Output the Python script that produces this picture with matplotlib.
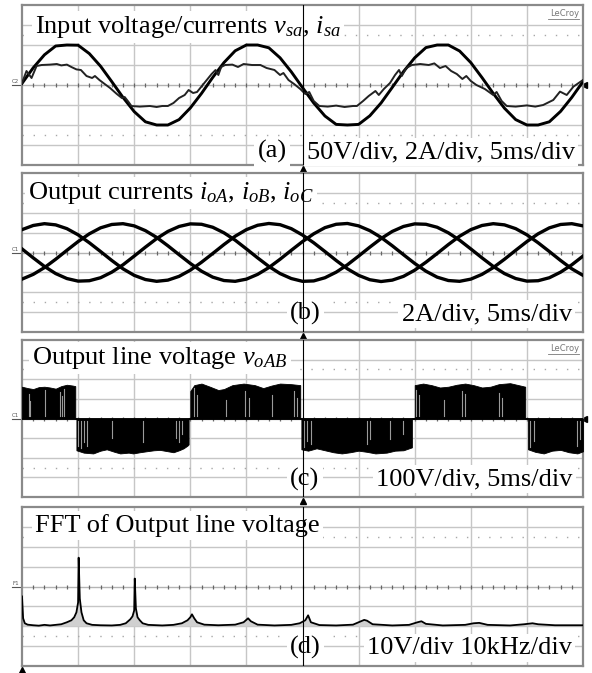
import numpy as np
import matplotlib
matplotlib.use('Agg')
import matplotlib.pyplot as plt

plt.rcParams['font.family'] = ['Liberation Serif', 'DejaVu Serif']
plt.rcParams['mathtext.fontset'] = 'custom'
plt.rcParams['mathtext.rm'] = 'Liberation Serif'
plt.rcParams['mathtext.it'] = 'Liberation Serif:italic'

# ---------------- data (in scope divisions) ----------------
# (a) input phase voltage v_sa, sampled every 0.2 div (5 ms/div, 50 V/div)
t_a = np.linspace(0, 10, 51)
v_sa = [0.08, 0.86, 1.51, 1.95, 2.0, 1.99, 1.57, 0.94, 0.17, -0.62,
        -1.33, -1.84, -2.0, -2.0, -1.73, -1.15, -0.42, 0.38, 1.12, 1.71,
        2.0, 2.0, 1.86, 1.36, 0.66, -0.13, -0.90, -1.55, -1.97, -2.0,
        -1.97, -1.54, -0.90, -0.12, 0.67, 1.36, 1.87, 2.0, 2.0, 1.70,
        1.12, 0.37, -0.42, -1.16, -1.73, -2.0, -2.0, -1.84, -1.32, -0.62, 0.17]
# (a) input current i_sa (2 A/div), read at irregular times
t_isa = [0.0, 0.08, 0.17, 0.26, 0.35, 0.5, 0.62, 0.7, 0.8, 0.88, 0.97, 1.05, 1.15, 1.25, 1.3,
         1.38, 1.45, 1.57, 1.69, 1.78, 1.83, 1.9, 1.95, 2.1, 2.28, 2.4, 2.5, 2.6, 2.7, 2.8,
         2.9, 2.97, 3.05, 3.12, 3.25, 3.38, 3.45, 3.5, 3.55, 3.62, 3.75, 3.85, 3.95, 4.1, 4.25,
         4.36, 4.5, 4.6, 4.66, 4.75, 4.85, 4.96, 5.05, 5.12, 5.2, 5.3, 5.45, 5.6, 5.75, 5.9,
         5.97, 6.08, 6.18, 6.3, 6.36, 6.45, 6.56, 6.65, 6.72, 6.77, 6.85, 6.95, 7.1, 7.25, 7.35,
         7.45, 7.55, 7.65, 7.75, 7.85, 7.92, 8.0, 8.1, 8.25, 8.4, 8.46, 8.55, 8.64, 8.8, 9.0,
         9.15, 9.29, 9.47, 9.59, 9.71, 9.83, 10.0]
i_sa = [0.1, 0.7, 0.35, 0.95, 1.0, 1.02, 1.05, 0.98, 1.02, 0.9, 0.78, 0.75, 0.45, 0.35, 0.45,
        0.25, 0.1, -0.15, -0.45, -0.65, -0.6, -0.85, -1.05, -1.08, -1.05, -1.1, -1.05, -1.05, -0.9, -0.65,
        -0.5, -0.25, -0.4, -0.35, 0.1, 0.55, 0.75, 0.5, 0.9, 1.0, 1.02, 0.9, 1.05, 1.0, 1.0,
        0.85, 0.75, 0.5, 0.6, 0.25, 0.05, -0.2, -0.45, -0.35, -0.8, -1.05, -1.08, -1.03, -1.1, -1.05,
        -1.05, -0.8, -0.55, -0.3, -0.5, -0.2, 0.1, 0.5, 0.75, 0.45, 0.85, 1.0, 1.05, 1.0, 1.08,
        0.85, 0.95, 0.7, 0.55, 0.3, 0.45, 0.2, 0.0, -0.2, -0.5, -0.35, -0.8, -1.05, -1.08, -1.02,
        -1.08, -1.0, -0.75, -0.33, -0.5, -0.08, 0.25]

# (b) output currents, sampled every 0.2 div (2 A/div)
t_b = np.linspace(0, 10, 51)
i_oA = [1.15, 1.36, 1.45, 1.39, 1.20, 0.89, 0.49, 0.05, -0.40, -0.82,
        -1.15, -1.36, -1.45, -1.39, -1.20, -0.89, -0.49, -0.05, 0.40, 0.82,
        1.15, 1.37, 1.46, 1.40, 1.20, 0.88, 0.49, 0.05, -0.40, -0.82,
        -1.15, -1.37, -1.46, -1.39, -1.20, -0.89, -0.49, -0.05, 0.40, 0.82,
        1.15, 1.36, 1.45, 1.39, 1.20, 0.89, 0.49, 0.05, -0.40, -0.82, -1.15]
i_oB = [-1.34, -1.10, -0.76, -0.34, 0.11, 0.55, 0.94, 1.24, 1.41, 1.45,
        1.34, 1.10, 0.76, 0.34, -0.11, -0.55, -0.94, -1.24, -1.41, -1.45,
        -1.34, -1.10, -0.76, -0.34, 0.11, 0.55, 0.94, 1.25, 1.42, 1.46,
        1.34, 1.10, 0.76, 0.34, -0.11, -0.55, -0.94, -1.24, -1.41, -1.45,
        -1.34, -1.10, -0.76, -0.34, 0.11, 0.55, 0.94, 1.24, 1.41, 1.45, 1.34]
i_oC = [0.18, -0.27, -0.70, -1.06, -1.31, -1.44, -1.42, -1.27, -0.99, -0.62,
        -0.18, 0.27, 0.70, 1.06, 1.31, 1.44, 1.42, 1.27, 0.99, 0.62,
        0.18, -0.27, -0.70, -1.06, -1.31, -1.45, -1.43, -1.27, -0.99, -0.62,
        -0.18, 0.27, 0.70, 1.06, 1.31, 1.44, 1.42, 1.27, 0.99, 0.62,
        0.18, -0.27, -0.70, -1.06, -1.31, -1.44, -1.42, -1.27, -0.99, -0.62, -0.18]

# (c) output line voltage v_oAB: envelope of the PWM pulses (100 V/div)
t_c = [0.0, 0.1, 0.2, 0.3, 0.4, 0.5, 0.6, 0.7, 0.8, 0.9, 0.95, 0.95,
       0.97, 0.97, 1.1, 1.27, 1.4, 1.51, 1.65, 1.75, 1.9, 1.98, 2.1, 2.22, 2.35, 2.46, 2.6, 2.7,
       2.8, 2.88, 2.95, 2.97, 2.97,
       3.0, 3.0, 3.07, 3.2, 3.35, 3.5, 3.6, 3.75, 3.95, 4.15, 4.3, 4.45, 4.6, 4.8, 4.96, 4.96,
       4.98, 4.98, 5.1, 5.25, 5.4, 5.55, 5.7, 5.85, 6.0, 6.15, 6.3, 6.5, 6.65, 6.8, 6.9, 6.95, 6.95,
       7.0, 7.0, 7.15, 7.3, 7.45, 7.6, 7.75, 7.9, 8.05, 8.2, 8.35, 8.5, 8.7, 8.85, 8.97, 8.97,
       9.02, 9.02, 9.15, 9.3, 9.45, 9.6, 9.75, 9.9, 10.0]
v_oAB = [1.62, 1.55, 1.5, 1.6, 1.62, 1.58, 1.52, 1.65, 1.72, 1.68, 1.65, 0.0,
         0.0, -1.62, -1.74, -1.78, -1.64, -1.57, -1.7, -1.78, -1.74, -1.78, -1.72, -1.67, -1.62, -1.6, -1.67, -1.72,
         -1.62, -1.52, -1.38, -1.32, 0.0,
         0.0, 1.4, 1.7, 1.78, 1.62, 1.45, 1.5, 1.7, 1.78, 1.7, 1.55, 1.68, 1.78, 1.75, 1.7, 0.0,
         0.0, -1.57, -1.64, -1.52, -1.62, -1.72, -1.78, -1.72, -1.64, -1.7, -1.78, -1.74, -1.64, -1.62, -1.52, -1.47, 0.0,
         0.0, 1.7, 1.78, 1.7, 1.58, 1.62, 1.72, 1.78, 1.7, 1.58, 1.62, 1.75, 1.8, 1.7, 1.62, 0.0,
         0.0, -1.57, -1.7, -1.78, -1.64, -1.6, -1.72, -1.78, -1.67]
# lighter streaks inside the pulse blocks: time and fraction of the envelope height
t_streak = [0.12, 0.15, 0.41, 0.67, 0.71, 0.75, 1.0, 1.05, 1.1, 1.16, 1.6, 2.16, 2.75, 2.8, 2.86,
            3.07, 3.12, 3.63, 3.98, 4.04, 4.46, 4.85, 4.9, 5.03, 5.08, 5.15, 6.15, 6.2, 6.56, 6.8,
            7.03, 7.08, 7.53, 7.85, 7.9, 8.5, 8.56, 9.06, 9.12, 9.9, 9.95]
h_streak = [0.8, 0.6, 0.9, 0.85, 0.7, 0.9, 0.85, 0.9, 0.7, 0.8, 0.6, 0.7, 0.6, 0.75, 0.5,
            0.9, 0.7, 0.6, 0.8, 0.6, 0.7, 0.8, 0.6, 0.9, 0.7, 0.8, 0.75, 0.6, 0.6, 0.5,
            0.85, 0.7, 0.6, 0.8, 0.7, 0.75, 0.6, 0.9, 0.7, 0.8, 0.6]

# (d) FFT of output line voltage (10 V/div, 10 kHz/div)
t_d = [0.0, 0.02, 0.05, 0.1, 0.2, 0.3, 0.4, 0.5, 0.6, 0.7, 0.8, 0.88, 0.93, 0.97, 1.0, 1.01, 1.03,
       1.06, 1.1, 1.15, 1.25, 1.4, 1.6, 1.75, 1.85, 1.93, 1.97, 2.0, 2.01, 2.03, 2.06, 2.1, 2.15,
       2.25, 2.5, 2.7, 2.85, 2.95, 3.0, 3.03, 3.07, 3.12, 3.25, 3.5, 3.8, 3.95, 4.03, 4.08, 4.2,
       4.5, 4.8, 4.95, 5.05, 5.1, 5.15, 5.3, 5.6, 5.9, 6.0, 6.1, 6.15, 6.25, 6.6, 6.9, 7.05, 7.12,
       7.2, 7.5, 7.9, 8.05, 8.15, 8.3, 8.7, 8.95, 9.1, 9.2, 9.5, 10.0]
fft_d = [-0.5, -1.6, -1.85, -1.92, -1.95, -1.97, -1.93, -1.96, -1.93, -1.9, -1.8, -1.7, -1.55, -1.3, -0.8, 1.45, -0.6,
         -1.3, -1.7, -1.85, -1.93, -1.95, -1.96, -1.93, -1.85, -1.65, -1.5, -1.2, 0.4, -1.1, -1.55, -1.7, -1.85,
         -1.93, -1.96, -1.93, -1.85, -1.7, -1.55, -1.4, -1.6, -1.8, -1.92, -1.95, -1.92, -1.8, -1.6, -1.75, -1.92,
         -1.96, -1.93, -1.85, -1.7, -1.45, -1.8, -1.94, -1.96, -1.92, -1.8, -1.68, -1.72, -1.9, -1.96, -1.93, -1.8, -1.75,
         -1.88, -1.96, -1.93, -1.85, -1.83, -1.93, -1.96, -1.9, -1.85, -1.9, -1.95, -1.95]
fft_floor = -1.98

titles = [r'Input voltage/currents $v_{sa}$, $i_{sa}$',
          r'Output currents $i_{oA}$, $i_{oB}$, $i_{oC}$',
          r'Output line voltage $v_{oAB}$',
          'FFT of Output line voltage']
tags = ['(a)', '(b)', '(c)', '(d)']
scales = ['50V/div, 2A/div, 5ms/div', '2A/div, 5ms/div', '100V/div, 5ms/div', '10V/div 10kHz/div']
chan = ['C2', 'C1', 'C1', 'F1']

# ---------------- layout ----------------
W, H = 592, 673
fig = plt.figure(figsize=(W / 100, H / 100), dpi=100)
fig.patch.set_facecolor('white')

panels_px = [(5, 165), (173, 332), (340, 497), (507, 666)]
left_px, right_px = 22, 583
title_pos = [(0.23, 2.6), (0.11, 2.7), (0.18, 2.78), (0.23, 2.73)]
tag_pos = [(4.2, -3.65), (4.78, -3.4), (4.78, -3.4), (4.78, -3.4)]
scale_pos = [(9.86, -3.65), (9.8, -3.4), (9.82, -3.4), (9.8, -3.4)]
FS = 19
GRID = '#c6c6c6'

axes = []
for k, (top, bot) in enumerate(panels_px):
    ax = fig.add_axes([left_px / W, 1 - bot / H, (right_px - left_px) / W, (bot - top) / H])
    ax.set_xlim(0, 10)
    ax.set_ylim(-4, 4)
    ax.set_xticks([])
    ax.set_yticks([])
    for s in ax.spines.values():
        s.set_color('#8a8a8a')
        s.set_linewidth(1.6)
    for x in range(1, 10):
        if x != 5:
            ax.axvline(x, color=GRID, lw=1.0, zorder=1)
    for y in (-3, -2, -1, 1, 2, 3):
        ax.axhline(y, color=GRID, lw=1.0, zorder=1)
    for y in (-2.5, 2.5):
        ax.axhline(y, color='#a8a8a8', lw=1.0, ls=(0, (1, 7)), zorder=1)
    ax.axhline(0, color='#b4b4b4', lw=1.0, zorder=1)
    tk = np.arange(0.2, 10, 0.2)
    ax.plot(tk, np.zeros_like(tk), ls='none', marker='|', ms=3, mew=0.9,
            color='#666666', zorder=1)
    ax.axvline(5, color='black', lw=0.8, zorder=6)
    # channel marker at left
    ax.text(-0.05, 0.05, chan[k], fontsize=4, color='#555555', ha='right', va='bottom',
            family='DejaVu Sans', clip_on=False)
    ax.plot([-0.18, -0.02], [0, 0], color='#555555', lw=0.8, clip_on=False)
    # texts
    bb = dict(boxstyle='square,pad=0.12', fc='white', ec='none')
    ax.text(*title_pos[k], titles[k], fontsize=FS, ha='left', va='baseline', bbox=bb, zorder=5)
    ax.text(*tag_pos[k], tags[k], fontsize=FS, ha='left', va='baseline', bbox=bb, zorder=5)
    ax.text(*scale_pos[k], scales[k], fontsize=FS, ha='right', va='baseline', bbox=bb, zorder=5)
    axes.append(ax)

ax_a, ax_b, ax_c, ax_d = axes

# (a)
ax_a.plot(t_a, v_sa, color='black', lw=2.1, zorder=3, solid_joinstyle='round')
ax_a.plot(t_isa, i_sa, color='#222222', lw=1.4, zorder=3, solid_joinstyle='round')
ax_a.plot([10.02], [0], marker='<', ms=4, color='black', clip_on=False)

# (b)
for cur in (i_oA, i_oB, i_oC):
    ax_b.plot(t_b, cur, color='black', lw=2.4, zorder=3, solid_joinstyle='round')

# (c)
ax_c.fill_between(t_c, 0, v_oAB, color='black', lw=0.6, zorder=3)
env = np.interp(t_streak, t_c, v_oAB)
for ts, hs, ev in zip(t_streak, h_streak, env):
    ax_c.plot([ts, ts], [0.12 * np.sign(ev), ev * hs], color='#9a9a9a', lw=0.8, zorder=3)
ax_c.axhline(0, color='black', lw=1.3, zorder=3)
ax_c.plot([10.02], [0], marker='<', ms=4, color='black', clip_on=False)

# (d)
ax_d.fill_between(t_d, fft_floor, fft_d, color='#d0d0d0', lw=0, zorder=2)
ax_d.plot(t_d, fft_d, color='black', lw=1.3, zorder=3)

# LeCroy labels
for ax in (ax_a, ax_c):
    ax.text(9.93, 3.82, 'LeCroy', fontsize=6, color='#777777', ha='right', va='top',
            family='DejaVu Sans', zorder=5)
    ax.plot([9.38, 9.93], [3.3, 3.3], color='#777777', lw=0.6, zorder=5)

# trigger arrows
for ax in (ax_a, ax_b, ax_c):
    ax.plot([5], [-4.22], marker='^', ms=4, color='black', clip_on=False, zorder=7)
ax_d.plot([0], [-4.22], marker='^', ms=4, color='black', clip_on=False, zorder=7)

fig.savefig('out.png', dpi=100, facecolor='white')
